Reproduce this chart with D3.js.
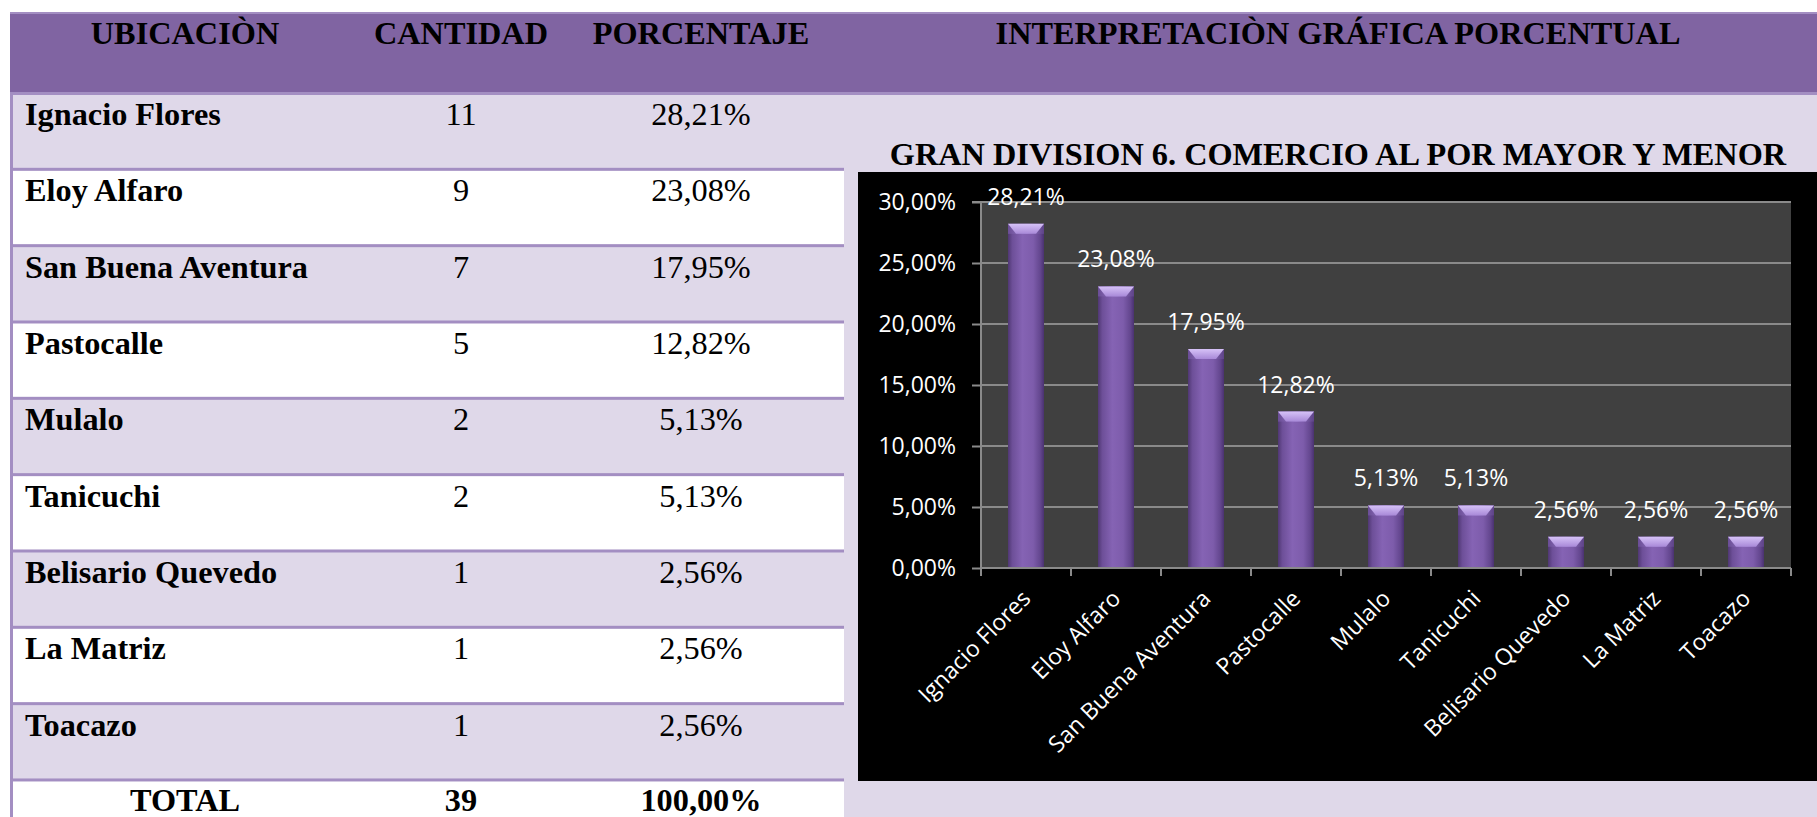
<!DOCTYPE html>
<html>
<head>
<meta charset="utf-8">
<script src="https://cdn.jsdelivr.net/npm/d3@7"></script>
<style>
  html, body { margin: 0; padding: 0; background: #ffffff; overflow: hidden; }
  svg { display: block; }
</style>
</head>
<body>
<svg id="chart" width="1817" height="817"></svg>
<script>
// ---- Data ----
const categories = ["Ignacio Flores", "Eloy Alfaro", "San Buena Aventura", "Pastocalle", "Mulalo", "Tanicuchi", "Belisario Quevedo", "La Matriz", "Toacazo"];
const cantidad = [11, 9, 7, 5, 2, 2, 1, 1, 1];
const porcentaje = [28.21, 23.08, 17.95, 12.82, 5.13, 5.13, 2.56, 2.56, 2.56];
const totalRow = ["TOTAL", "39", "100,00%"];
const tableHeaders = ["UBICACIÒN", "CANTIDAD", "PORCENTAJE"];
const chartHeader = "INTERPRETACIÒN GRÁFICA PORCENTUAL";
const chartTitle = "GRAN DIVISION 6. COMERCIO AL POR MAYOR Y MENOR";
const yTicks = [0, 5, 10, 15, 20, 25, 30];

// ---- Helpers ----
const fmtPct = v => d3.format(".2f")(v).replace(".", ",") + "%";

const svg = d3.select("#chart");
const W = 1817, H = 817;

const COL_HEADER = "#8064a2";
const COL_LINE = "#a38ec2";
const COL_LAV = "#dfd8e9";
const serif = "'Liberation Serif', 'Times New Roman', serif";
const sans = "'Open Sans', 'DejaVu Sans', sans-serif";
const SERIF_SIZE = 32.3;

// background
svg.append("rect").attr("x", 0).attr("y", 0).attr("width", W).attr("height", H).attr("fill", "#ffffff");
svg.append("rect").attr("x", 844).attr("y", 93).attr("width", W - 844).attr("height", H - 93).attr("fill", COL_LAV);

// ---- Table ----
const rowKeys = categories.concat(["__total"]);
const rowScale = d3.scaleBand().domain(rowKeys).range([93, 93 + 76.33 * rowKeys.length]).padding(0);

// left border
svg.append("rect").attr("x", 10).attr("y", 12).attr("width", 3).attr("height", H - 12).attr("fill", COL_LINE);

// rows
const rows = svg.append("g");
rows.selectAll("rect.row").data(rowKeys).join("rect")
  .attr("class", "row")
  .attr("x", 13).attr("y", d => rowScale(d))
  .attr("width", 844 - 13).attr("height", rowScale.bandwidth())
  .attr("fill", (d, i) => i % 2 === 0 ? COL_LAV : "#ffffff");
rows.selectAll("rect.sep").data(rowKeys.slice(1)).join("rect")
  .attr("class", "sep")
  .attr("x", 10).attr("y", d => rowScale(d) - 1.5)
  .attr("width", 844 - 10).attr("height", 3)
  .attr("fill", COL_LINE);

// header band
svg.append("rect").attr("x", 10).attr("y", 12).attr("width", W - 10).attr("height", 81).attr("fill", COL_HEADER);
svg.append("rect").attr("x", 10).attr("y", 12).attr("width", W - 10).attr("height", 2).attr("fill", COL_LINE);
svg.append("rect").attr("x", 10).attr("y", 92).attr("width", W - 10).attr("height", 3).attr("fill", COL_LINE);

const colX = [null, 461, 701];
const headerX = [185, 461, 701];
svg.append("g").selectAll("text").data(tableHeaders).join("text")
  .attr("x", (d, i) => headerX[i]).attr("y", 44)
  .attr("text-anchor", "middle")
  .attr("font-family", serif).attr("font-weight", "bold").attr("font-size", SERIF_SIZE)
  .attr("fill", "#000").text(d => d);
svg.append("text").attr("x", 1338).attr("y", 44)
  .attr("text-anchor", "middle")
  .attr("font-family", serif).attr("font-weight", "bold").attr("font-size", SERIF_SIZE)
  .attr("fill", "#000").text(chartHeader);

const bodyText = svg.append("g").attr("font-family", serif).attr("font-size", SERIF_SIZE).attr("fill", "#000");
categories.forEach((c, i) => {
  const yb = rowScale(c) + 32;
  bodyText.append("text").attr("x", 25).attr("y", yb).attr("font-weight", "bold").text(c);
  bodyText.append("text").attr("x", colX[1]).attr("y", yb).attr("text-anchor", "middle").text(cantidad[i]);
  bodyText.append("text").attr("x", colX[2]).attr("y", yb).attr("text-anchor", "middle").text(fmtPct(porcentaje[i]));
});
{
  const yb = rowScale("__total") + 31;
  [185, 461, 701].forEach((x, i) => {
    bodyText.append("text").attr("x", x).attr("y", yb).attr("text-anchor", "middle")
      .attr("font-weight", "bold").text(totalRow[i]);
  });
}

// ---- Chart ----
svg.append("text").attr("x", 1338).attr("y", 165)
  .attr("text-anchor", "middle")
  .attr("font-family", serif).attr("font-weight", "bold").attr("font-size", SERIF_SIZE)
  .attr("fill", "#000").text(chartTitle);

svg.append("rect").attr("x", 858).attr("y", 172).attr("width", W - 858).attr("height", 781 - 172).attr("fill", "#000");

const x = d3.scaleBand().domain(categories).range([981, 1791]).paddingInner(0.6).paddingOuter(0.3);
const y = d3.scaleLinear().domain([0, 30]).range([568, 202]);

// plot area
svg.append("rect").attr("x", x.range()[0]).attr("y", y(30))
  .attr("width", x.range()[1] - x.range()[0]).attr("height", y(0) - y(30))
  .attr("fill", "#404040");

// gridlines
svg.append("g").selectAll("line").data(yTicks.filter(t => t > 0)).join("line")
  .attr("x1", x.range()[0]).attr("x2", x.range()[1])
  .attr("y1", d => y(d)).attr("y2", d => y(d))
  .attr("stroke", "#8a8a8a").attr("stroke-width", 2);

// defs
const defs = svg.append("defs");
const g1 = defs.append("linearGradient").attr("id", "barGrad").attr("x1", 0).attr("x2", 1).attr("y1", 0).attr("y2", 0);
[[0, "#4f3773"], [0.12, "#6d4f98"], [0.4, "#8563b4"], [0.7, "#7d5cab"], [0.9, "#63468e"], [1, "#4a3270"]]
  .forEach(([o, c]) => g1.append("stop").attr("offset", o).attr("stop-color", c));
const g2 = defs.append("linearGradient").attr("id", "bevelGrad").attr("x1", 0).attr("x2", 0).attr("y1", 0).attr("y2", 1);
[[0, "#d6c2f7"], [1, "#a889d8"]].forEach(([o, c]) => g2.append("stop").attr("offset", o).attr("stop-color", c));
const g3 = defs.append("linearGradient").attr("id", "bevelSide").attr("x1", 0).attr("x2", 1).attr("y1", 0).attr("y2", 0);
[[0, "#6a4d95"], [0.5, "#9a7ccb"], [1, "#5e4388"]].forEach(([o, c]) => g3.append("stop").attr("offset", o).attr("stop-color", c));

// bars
const bars = svg.append("g");
const bw = x.bandwidth();
categories.forEach((c, i) => {
  const x0 = x(c), top = y(porcentaje[i]), bottom = y(0) + 1;
  bars.append("rect").attr("x", x0).attr("y", top).attr("width", bw).attr("height", bottom - top).attr("fill", "url(#barGrad)");
  const bev = Math.min(10, (bottom - top) * 0.4);
  bars.append("rect").attr("x", x0).attr("y", top).attr("width", bw).attr("height", bev).attr("fill", "url(#bevelSide)");
  bars.append("polygon")
    .attr("points", [[x0, top], [x0 + bw, top], [x0 + bw - 8, top + bev], [x0 + 8, top + bev]].map(p => p.join(",")).join(" "))
    .attr("fill", "url(#bevelGrad)");
  bars.append("text")
    .attr("x", x0 + bw / 2).attr("y", top - 19)
    .attr("text-anchor", "middle")
    .attr("font-family", sans).attr("font-size", 23).attr("fill", "#ffffff")
    .text(fmtPct(porcentaje[i]));
});

// y axis
const yAxis = d3.axisLeft(y).tickValues(yTicks).tickSize(9).tickPadding(16).tickFormat(d => fmtPct(d));
const yg = svg.append("g").attr("transform", `translate(${x.range()[0]},0)`).call(yAxis);
yg.select(".domain").attr("stroke", "#8a8a8a").attr("stroke-width", 2).attr("d", `M-9,${y(30)}H0V${y(0)}`);
yg.selectAll(".tick line").attr("stroke", "#8a8a8a").attr("stroke-width", 2);
yg.selectAll(".tick text").attr("font-family", sans).attr("font-size", 23).attr("fill", "#ffffff");

// x axis line + boundary ticks
const xg = svg.append("g");
xg.append("line").attr("x1", x.range()[0]).attr("x2", x.range()[1]).attr("y1", y(0)).attr("y2", y(0))
  .attr("stroke", "#8a8a8a").attr("stroke-width", 2);
const bounds = d3.range(categories.length + 1).map(k => x.range()[0] + k * x.step());
xg.selectAll("line.tk").data(bounds).join("line").attr("class", "tk")
  .attr("x1", d => d).attr("x2", d => d).attr("y1", y(0)).attr("y2", y(0) + 8)
  .attr("stroke", "#8a8a8a").attr("stroke-width", 2);
xg.selectAll("text").data(categories).join("text")
  .attr("transform", d => `translate(${x(d) + bw / 2 + 6},${y(0) + 32}) rotate(-45)`)
  .attr("text-anchor", "end")
  .attr("font-family", sans).attr("font-size", 23).attr("fill", "#ffffff")
  .text(d => d);
</script>
</body>
</html>
